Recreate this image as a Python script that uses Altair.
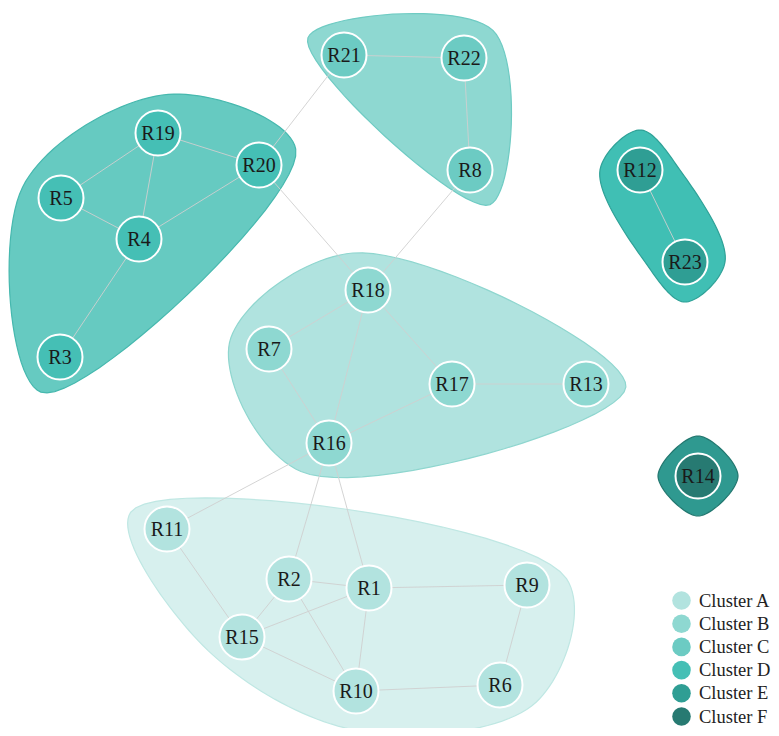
import altair as alt
import pandas as pd
import math

# ---- data ----
node_ids = ["R1", "R2", "R3", "R4", "R5", "R6", "R7", "R8", "R9", "R10", "R11", "R12",
            "R13", "R14", "R15", "R16", "R17", "R18", "R19", "R20", "R21", "R22", "R23"]
node_x = [369, 289, 60, 139, 61, 500, 269, 470, 527, 356, 167, 640,
          586, 698, 242, 329, 452, 368, 158, 259, 344, 464, 685]
node_y = [588, 579, 357, 239, 198, 685, 349, 170, 585, 691, 529, 170,
          384, 476, 637, 443, 384, 290, 133, 165, 55, 58, 262]
node_cluster = ["Cluster A", "Cluster A", "Cluster D", "Cluster D", "Cluster D", "Cluster A",
                "Cluster B", "Cluster C", "Cluster A", "Cluster A", "Cluster A", "Cluster E",
                "Cluster B", "Cluster F", "Cluster A", "Cluster B", "Cluster B", "Cluster B",
                "Cluster D", "Cluster D", "Cluster C", "Cluster C", "Cluster E"]

edge_source = ["R21", "R22", "R21", "R20", "R8", "R19", "R19", "R19", "R5", "R4", "R4",
               "R18", "R18", "R18", "R7", "R16", "R17", "R16", "R16", "R16", "R11", "R2",
               "R2", "R2", "R1", "R1", "R1", "R15", "R10", "R9", "R12"]
edge_target = ["R22", "R8", "R20", "R18", "R18", "R20", "R4", "R5", "R4", "R20", "R3",
               "R7", "R16", "R17", "R16", "R17", "R13", "R11", "R2", "R1", "R15", "R1",
               "R15", "R10", "R15", "R10", "R9", "R10", "R6", "R6", "R23"]

clusters = ["Cluster A", "Cluster B", "Cluster C", "Cluster D", "Cluster E", "Cluster F"]
node_colors = ["#b2e3df", "#8ed8d1", "#6ccbc3", "#45bfb5", "#2f9e94", "#277a72"]
hull_colors = ["#d7f0ee", "#b0e3df", "#8ed8d1", "#66cac1", "#40bfb4", "#2f9990"]
hull_strokes = ["#bfe7e3", "#8fd6cf", "#6fcbc3", "#46b8ae", "#2ea197", "#22776f"]

HULL_PAD = 40

# ---- derived tables ----
nodes = pd.DataFrame({"id": node_ids, "x": node_x, "y": node_y, "cluster": node_cluster})
pos = {n: (x, y) for n, x, y in zip(node_ids, node_x, node_y)}
edges = pd.DataFrame({
    "x": [pos[s][0] for s in edge_source], "y": [pos[s][1] for s in edge_source],
    "x2": [pos[t][0] for t in edge_target], "y2": [pos[t][1] for t in edge_target],
})


def convex_hull(points):
    pts = sorted(set(points))
    if len(pts) <= 2:
        return pts

    def cross(o, a, b):
        return (a[0] - o[0]) * (b[1] - o[1]) - (a[1] - o[1]) * (b[0] - o[0])
    lower, upper = [], []
    for p in pts:
        while len(lower) >= 2 and cross(lower[-2], lower[-1], p) <= 0:
            lower.pop()
        lower.append(p)
    for p in reversed(pts):
        while len(upper) >= 2 and cross(upper[-2], upper[-1], p) <= 0:
            upper.pop()
        upper.append(p)
    return lower[:-1] + upper[:-1]


def hull_outline(xs_, ys_):
    pts = list(zip(xs_, ys_))
    if len(pts) < 3:
        cand = []
        for x, y in pts:
            for dx, dy in [(HULL_PAD, 0), (-HULL_PAD, 0), (0, HULL_PAD), (0, -HULL_PAD)]:
                cand.append((x + dx, y + dy))
        return convex_hull(cand)
    cx = sum(p[0] for p in pts) / len(pts)
    cy = sum(p[1] for p in pts) / len(pts)
    out = []
    for x, y in convex_hull(pts):
        dx, dy = x - cx, y - cy
        d = math.hypot(dx, dy) or 1.0
        out.append((x + dx / d * HULL_PAD, y + dy / d * HULL_PAD))
    return out


def catmull_rom_closed(pts, alpha=0.5, steps=24):
    """Centripetal Catmull-Rom (closed), as cubic Beziers, sampled."""
    n = len(pts)
    res = []
    for i in range(n):
        p0, p1, p2, p3 = pts[(i - 1) % n], pts[i], pts[(i + 1) % n], pts[(i + 2) % n]
        l01 = math.dist(p0, p1)
        l12 = math.dist(p1, p2)
        l23 = math.dist(p2, p3)
        l01a, l12a, l23a = l01 ** alpha, l12 ** alpha, l23 ** alpha
        l01_2a, l12_2a, l23_2a = l01 ** (2 * alpha), l12 ** (2 * alpha), l23 ** (2 * alpha)
        c1 = list(p1)
        c2 = list(p2)
        if l01a > 1e-9:
            a = 2 * l01_2a + 3 * l01a * l12a + l12_2a
            m = 3 * l01a * (l01a + l12a)
            c1 = [(p1[k] * a - p0[k] * l12_2a + p2[k] * l01_2a) / m for k in range(2)]
        if l23a > 1e-9:
            b = 2 * l23_2a + 3 * l23a * l12a + l12_2a
            m = 3 * l23a * (l23a + l12a)
            c2 = [(p2[k] * b + p1[k] * l23_2a - p3[k] * l12_2a) / m for k in range(2)]
        for s in range(steps):
            t = s / steps
            u = 1 - t
            res.append(tuple(u ** 3 * p1[k] + 3 * u * u * t * c1[k] + 3 * u * t * t * c2[k]
                             + t ** 3 * p2[k] for k in range(2)))
    return res


xs = alt.Scale(domain=[8, 771])
ys = alt.Scale(domain=[8, 728], reverse=True)

layers = []
for ci, c in enumerate(clusters):
    members = nodes[nodes.cluster == c]
    curve = catmull_rom_closed(hull_outline(list(members.x), list(members.y)))
    hdf = pd.DataFrame({"x": [p[0] for p in curve], "y": [p[1] for p in curve],
                        "i": list(range(len(curve)))})
    layers.append(
        alt.Chart(hdf).mark_line(interpolate="linear-closed", filled=True,
                                 fill=hull_colors[ci], stroke=hull_strokes[ci],
                                 strokeWidth=1.2).encode(
            x=alt.X("x:Q", scale=xs, axis=None),
            y=alt.Y("y:Q", scale=ys, axis=None),
            order=alt.Order("i:Q"),
        )
    )

edge_layer = alt.Chart(edges).mark_rule(color="#cfcfcf", strokeWidth=0.9).encode(
    x=alt.X("x:Q", scale=xs, axis=None), y=alt.Y("y:Q", scale=ys, axis=None),
    x2="x2:Q", y2="y2:Q",
)

node_layer = alt.Chart(nodes).mark_circle(size=2025, opacity=1, stroke="white",
                                          strokeWidth=2).encode(
    x=alt.X("x:Q", scale=xs, axis=None),
    y=alt.Y("y:Q", scale=ys, axis=None),
    fill=alt.Fill("cluster:N", scale=alt.Scale(domain=clusters, range=node_colors),
                  legend=alt.Legend(title=None, orient="none", legendX=664, legendY=583,
                                    symbolType="circle", symbolSize=345,
                                    symbolStrokeWidth=0, symbolOpacity=1,
                                    labelFont="Liberation Serif", labelFontSize=18.5,
                                    labelColor="#222222", labelOffset=8, rowPadding=4.2,
                                    labelLimit=300, padding=0)),
)

label_layer = alt.Chart(nodes).mark_text(font="Liberation Serif", fontSize=20,
                                         color="#1a1a1a", baseline="middle", dy=1).encode(
    x=alt.X("x:Q", scale=xs, axis=None),
    y=alt.Y("y:Q", scale=ys, axis=None),
    text="id:N",
)

chart = alt.layer(*layers, edge_layer, node_layer, label_layer).properties(
    width=763, height=720, autosize=alt.AutoSizeParams(type="none"), padding=0,
    background="white",
).configure_view(stroke=None)

chart.save("out.html", embed_options={"renderer": "svg", "actions": False})
